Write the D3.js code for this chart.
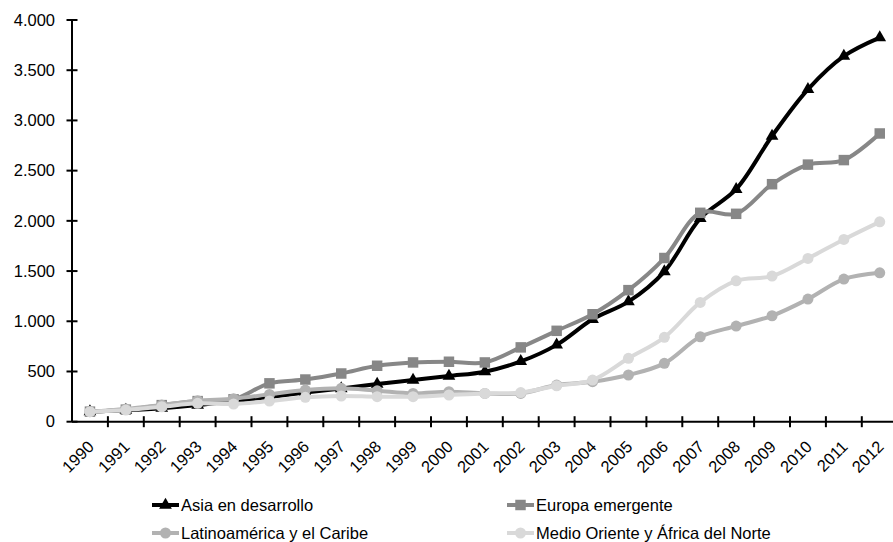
<!DOCTYPE html>
<html>
<head>
<meta charset="utf-8">
<script src="https://cdn.jsdelivr.net/npm/d3@7"></script>
<style>
  html, body { margin: 0; padding: 0; background: #fff; }
  svg { display: block; font-family: "Liberation Sans", Arial, sans-serif; }
</style>
</head>
<body>
<svg id="chart" width="893" height="542"></svg>
<script>
// Years on the category axis
const years = ["1990","1991","1992","1993","1994","1995","1996","1997","1998","1999","2000",
  "2001","2002","2003","2004","2005","2006","2007","2008","2009","2010","2011","2012"];

// Index values per region (1990 = 100)
const asia = [100, 115, 135, 165, 205, 245, 290, 330, 375, 415, 455, 498, 600, 765, 1020, 1195, 1495, 2025, 2315, 2845, 3310, 3640, 3825];
const europa = [100, 120, 165, 205, 223, 382, 420, 480, 557, 590, 597, 590, 740, 905, 1070, 1310, 1630, 2080, 2070, 2365, 2560, 2605, 2870];
const latam = [100, 126, 166, 209, 229, 272, 315, 332, 308, 282, 299, 282, 282, 365, 398, 465, 581, 846, 952, 1055, 1221, 1420, 1483];
const mena = [100, 116, 149, 183, 176, 206, 243, 256, 249, 249, 266, 282, 290, 358, 415, 631, 840, 1188, 1403, 1450, 1626, 1815, 1990];

// Value-axis ticks
const yTicks = [0, 500, 1000, 1500, 2000, 2500, 3000, 3500, 4000];

const seriesNames = ["Asia en desarrollo", "Europa emergente", "Latinoamérica y el Caribe", "Medio Oriente y África del Norte"];

const series = [
  { name: seriesNames[0], values: asia,   color: "#000000", marker: "triangle" },
  { name: seriesNames[1], values: europa, color: "#878787", marker: "square" },
  { name: seriesNames[2], values: latam,  color: "#b2b2b2", marker: "circle" },
  { name: seriesNames[3], values: mena,   color: "#d9d9d9", marker: "circle" }
];

const svg = d3.select("#chart");
const fontSize = 16.5;

const x = d3.scaleBand().domain(years).range([72, 897.7]);
const y = d3.scaleLinear().domain([0, 4000]).range([421.7, 20]);
const cx = d => x(d) + x.bandwidth() / 2;

const locale = d3.formatLocale({ decimal: ",", thousands: ".", grouping: [3], currency: ["", "€"] });
const fmt = locale.format(",.0f");

// Value axis
const yAxis = svg.append("g");
yAxis.append("line")
  .attr("x1", 72).attr("x2", 72).attr("y1", y(4000)).attr("y2", y(0))
  .attr("stroke", "#000").attr("stroke-width", 2);
yAxis.selectAll(".tick").data(yTicks).join("line")
  .attr("x1", 66.5).attr("x2", 77.5)
  .attr("y1", d => y(d)).attr("y2", d => y(d))
  .attr("stroke", "#000").attr("stroke-width", 2);
yAxis.selectAll("text").data(yTicks).join("text")
  .attr("x", 55).attr("y", d => y(d)).attr("dy", "0.35em")
  .attr("text-anchor", "end").attr("font-size", fontSize).attr("fill", "#000")
  .text(d => fmt(d));

// Category axis
const xAxis = svg.append("g");
xAxis.append("line")
  .attr("x1", 72).attr("x2", 897.7).attr("y1", y(0)).attr("y2", y(0))
  .attr("stroke", "#000").attr("stroke-width", 2);
xAxis.selectAll(".tick").data(years).join("line")
  .attr("x1", d => x(d) + x.bandwidth()).attr("x2", d => x(d) + x.bandwidth())
  .attr("y1", y(0) - 5.5).attr("y2", y(0) + 5.5)
  .attr("stroke", "#000").attr("stroke-width", 2);
xAxis.selectAll("text").data(years).join("text")
  .attr("transform", d => `translate(${cx(d) + 5},${y(0) + 26}) rotate(-45)`)
  .attr("text-anchor", "end").attr("font-size", fontSize).attr("fill", "#000")
  .text(d => d);

// Marker shapes
const symbolFor = {
  triangle: d3.symbol().type(d3.symbolTriangle).size(70),
  square: d3.symbol().type(d3.symbolSquare).size(110),
  circle: d3.symbol().type(d3.symbolCircle).size(95)
};

const line = d3.line()
  .x((v, i) => cx(years[i]))
  .y(v => y(v))
  .curve(d3.curveCatmullRom.alpha(0.5));

const plot = svg.append("g");
series.forEach(s => {
  const g = plot.append("g");
  g.append("path")
    .attr("d", line(s.values))
    .attr("fill", "none").attr("stroke", s.color)
    .attr("stroke-width", 4).attr("stroke-linejoin", "round");
  g.selectAll("path.m").data(s.values).join("path")
    .attr("class", "m")
    .attr("transform", (v, i) => `translate(${cx(years[i])},${y(v)})`)
    .attr("d", symbolFor[s.marker]())
    .attr("fill", s.color);
});

// Legend
const legendPos = [
  { x: 152, y: 505 }, { x: 507, y: 505 },
  { x: 152, y: 533 }, { x: 507, y: 533 }
];
const legend = svg.append("g");
series.forEach((s, i) => {
  const p = legendPos[i];
  const g = legend.append("g").attr("transform", `translate(${p.x},${p.y})`);
  g.append("line").attr("x1", 0).attr("x2", 27).attr("y1", 0).attr("y2", 0)
    .attr("stroke", s.color).attr("stroke-width", 4);
  g.append("path").attr("transform", "translate(13.5,0)")
    .attr("d", symbolFor[s.marker]()).attr("fill", s.color);
  g.append("text").attr("x", 29).attr("y", 0).attr("dy", "0.35em")
    .attr("font-size", fontSize).attr("fill", "#000").text(s.name);
});
</script>
</body>
</html>
